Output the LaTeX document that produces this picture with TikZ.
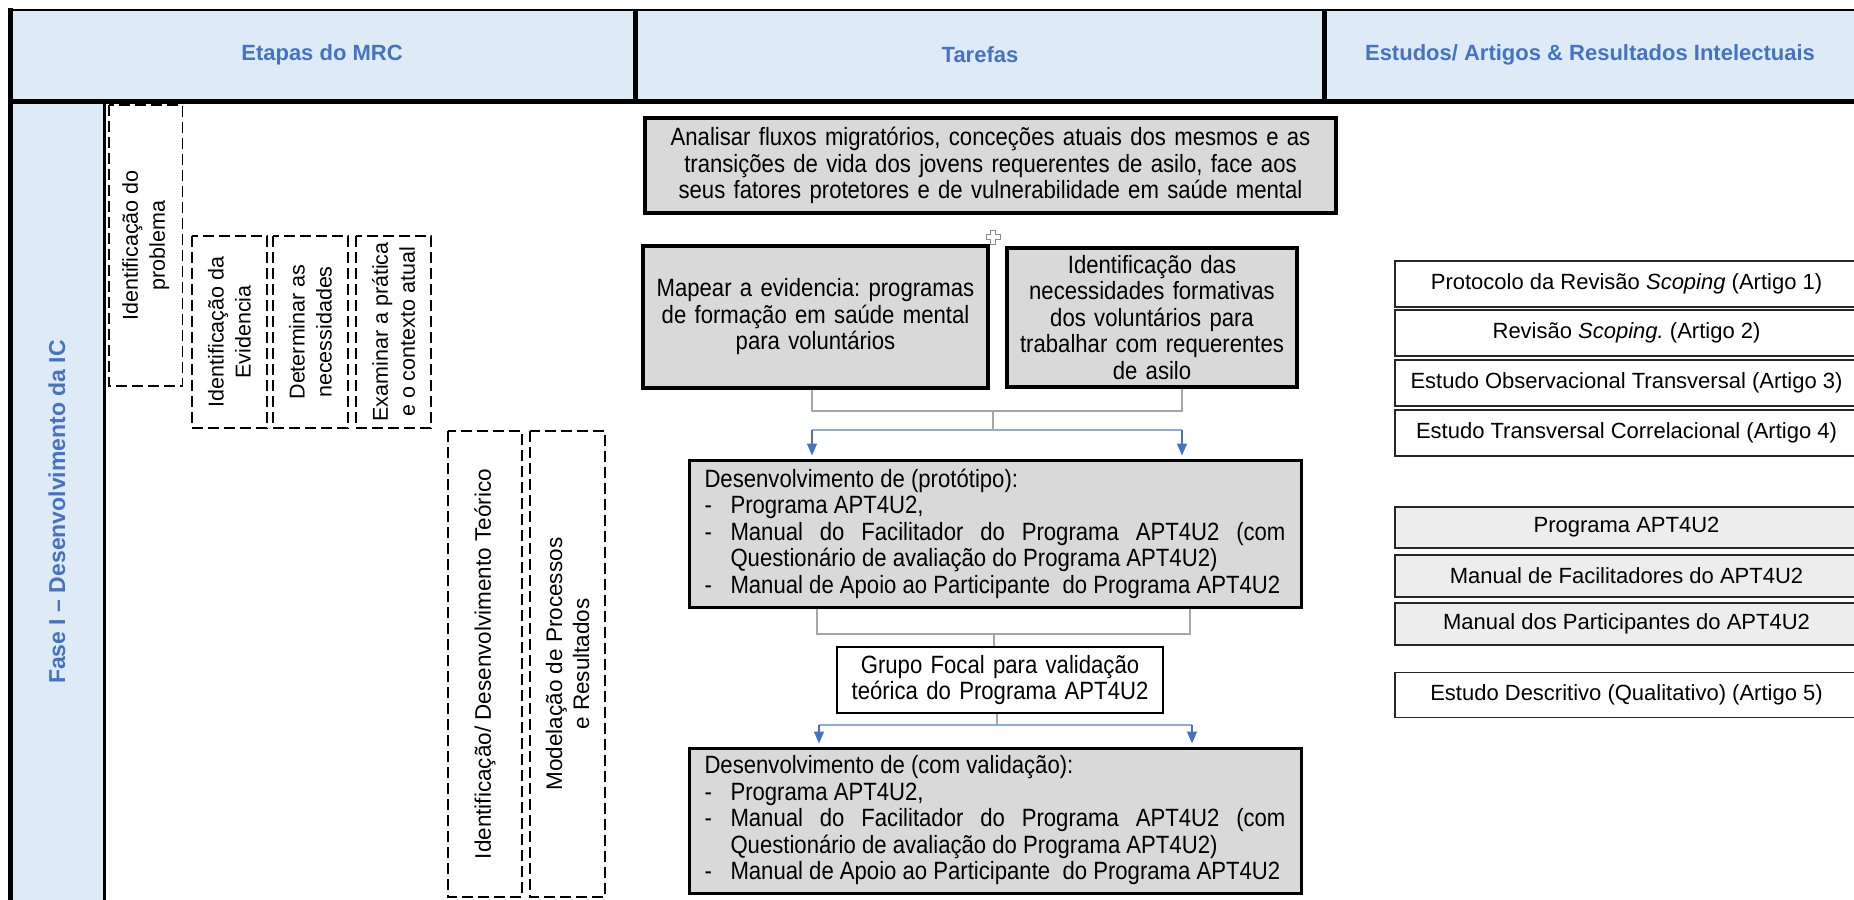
\documentclass[tikz,border=0pt]{standalone}
\usepackage{fontspec}
\setmainfont{Liberation Sans}
\newfontfamily\narrowf[FakeStretch=0.885]{Liberation Sans}
\usetikzlibrary{arrows.meta,calc}
\definecolor{hdrfill}{HTML}{DEEBF7}
\definecolor{hdrtext}{HTML}{4472C4}
\definecolor{taskfill}{HTML}{D9D9D9}
\definecolor{resfill}{HTML}{EDEDED}
\definecolor{linkgray}{HTML}{A6A6A6}
\definecolor{linkblue}{HTML}{4472C4}
\definecolor{busblue}{HTML}{8FAADC}
\newcommand{\dashitem}[1]{\par\noindent\hangindent=26pt\hangafter=1\makebox[26pt][l]{-}#1}

\begin{document}
\frenchspacing
\begin{tikzpicture}[x=1pt,y=-1pt,
  hdr/.style={font=\fontsize{22}{26}\selectfont\bfseries, text=hdrtext, inner sep=0pt},
  stage/.style={draw=black, line width=1.5pt, dash pattern=on 11pt off 5pt,
    rotate=90, inner sep=0pt, align=center, font=\fontsize{21.5}{27}\selectfont},
  task/.style={draw=black, fill=taskfill, line width=4pt, inner sep=0pt,
    align=center, font=\narrowf\fontsize{25}{26.5}\selectfont},
  devbox/.style={task, line width=3pt, align=justify, text width=581},
  focal/.style={task, fill=white, line width=2.5pt},
  resbox/.style={draw=black!85, line width=1.5pt, fill=white, inner sep=0pt,
    minimum width=463, font=\fontsize{22}{26}\selectfont},
  resgray/.style={resbox, fill=resfill},
  link/.style={draw=linkgray, line width=1.5pt},
  bus/.style={draw=busblue, line width=1.5pt},
  arrowlink/.style={draw=linkblue, line width=1.5pt, shorten >=3pt,
    -{Triangle[width=10pt,length=12pt]}},
]
\useasboundingbox (0,0) rectangle (1854,899);
\clip (0,0) rectangle (1854,899);

% table frame: header row and phase column
\fill[hdrfill] (10,10) rectangle (1860,101);
\fill[hdrfill] (10,101) rectangle (104,905);
\draw[line width=1.5pt] (10,10) -- (1860,10);
\draw[line width=5pt] (10,101.5) -- (1860,101.5);
\draw[line width=4.5pt] (10.5,8) -- (10.5,905);
\draw[line width=5pt] (635,10) -- (635,101);
\draw[line width=5pt] (1324,10) -- (1324,101);
\draw[line width=3pt] (104,101) -- (104,905);

\node[hdr] (hstages) at (322,55) {Etapas do MRC};
\node[hdr] (htasks) at (980,55) {Tarefas};
\node[hdr] (hresults) at (1590,55) {Estudos/ Artigos \& Resultados Intelectuais};
\node[hdr, font=\fontsize{23}{27}\selectfont\bfseries, rotate=90] (phaseI) at (57,512) {Fase I – Desenvolvimento da IC};

% MRC stages (dashed, vertical text)
\node[stage, minimum width=281, minimum height=73.5] (s1) at (145.75,245.5) {Identificação do\\problema};
\node[stage, minimum width=192, minimum height=75] (s2) at (229.5,332) {Identificação da\\Evidencia};
\node[stage, minimum width=192, minimum height=75] (s3) at (310.5,332) {Determinar as\\necessidades};
\node[stage, minimum width=192, minimum height=75] (s4) at (393.5,332) {Examinar a prática\\e o contexto atual};
\node[stage, font=\fontsize{22.5}{27}\selectfont, minimum width=466, minimum height=74] (s5) at (485,664) {Identificação/ Desenvolvimento Teórico};
\node[stage, font=\fontsize{22.5}{27}\selectfont, minimum width=466, minimum height=75] (s6) at (567.5,664) {Modelação de Processos\\e Resultados};

% tasks
\node[task, minimum width=691, minimum height=95, text width=670] (analisar) at (990.5,165.5)
  {Analisar fluxos migratórios, conceções atuais dos mesmos e as\\transições de vida dos jovens requerentes de asilo, face aos\\seus fatores protetores e de vulnerabilidade em saúde mental};

\draw[draw=black!45, fill=white, line width=1pt]
  (990.5,230) -- (995.5,230) -- (995.5,234.5) -- (1000,234.5) -- (1000,239.5)
  -- (995.5,239.5) -- (995.5,244) -- (990.5,244) -- (990.5,239.5) -- (986,239.5)
  -- (986,234.5) -- (990.5,234.5) -- cycle;

\node[task, minimum width=345, minimum height=142, text width=335] (mapear) at (815.5,317)
  {Mapear a evidencia: programas\\de formação em saúde mental\\para voluntários};
\node[task, minimum width=290, minimum height=139, text width=282] (ident) at (1152,317.5)
  {Identificação das\\necessidades formativas\\dos voluntários para\\trabalhar com requerentes\\de asilo};

\node[devbox, minimum width=612, minimum height=147] (proto) at (995,533.5)
  {Desenvolvimento de (protótipo):
   \dashitem{Programa APT4U2,}
   \dashitem{Manual do Facilitador do Programa APT4U2 (com\linebreak Questionário de avaliação do Programa APT4U2)}
   \dashitem{Manual de Apoio ao Participante~ do Programa APT4U2}};

\node[focal, minimum width=326, minimum height=66, text width=316] (focal) at (1000,680)
  {Grupo Focal para validação\\teórica do Programa APT4U2};

\node[devbox, minimum width=612, minimum height=145] (valid) at (995,820.5)
  {Desenvolvimento de (com validação):
   \dashitem{Programa APT4U2,}
   \dashitem{Manual do Facilitador do Programa APT4U2 (com\linebreak Questionário de avaliação do Programa APT4U2)}
   \dashitem{Manual de Apoio ao Participante~ do Programa APT4U2}};

% connectors
\coordinate (ja) at (812,411);
\coordinate (jb) at (1182,411);
\coordinate (jm) at (993,411);
\coordinate (ka) at (812,430);
\coordinate (kb) at (1182,430);
\coordinate (km) at (993,430);
\draw[link] (mapear.south -| ja) -- (ja) -- (jb) -- (ident.south -| jb);
\draw[link] (jm) -- (km);
\draw[bus] (ka) -- (kb);
\draw[arrowlink] (ka) -- (proto.north -| ka);
\draw[arrowlink] (kb) -- (proto.north -| kb);

\coordinate (pa) at (817,634);
\coordinate (pb) at (1190,634);
\coordinate (pm) at (994,634);
\draw[link] (proto.south -| pa) -- (pa) -- (pb) -- (proto.south -| pb);
\draw[link] (pm) -- (focal.north -| pm);

\coordinate (qm) at (997,725);
\coordinate (qa) at (819,725);
\coordinate (qb) at (1192,725);
\draw[link] (focal.south -| qm) -- (qm);
\draw[bus] (qa) -- (qb);
\draw[arrowlink] (qa) -- (valid.north -| qa);
\draw[arrowlink] (qb) -- (valid.north -| qb);

% studies, articles and intellectual outputs
\node[resbox, minimum height=46] (r1) at (1626.5,284) {Protocolo da Revisão \textit{Scoping} (Artigo 1)};
\node[resbox, minimum height=46] (r2) at (1626.5,333) {Revisão \textit{Scoping.} (Artigo 2)};
\node[resbox, minimum height=46] (r3) at (1626.5,383) {Estudo Observacional Transversal (Artigo 3)};
\node[resbox, minimum height=46] (r4) at (1626.5,433) {Estudo Transversal Correlacional (Artigo 4)};
\node[resgray, minimum height=41] (r5) at (1626.5,527.5) {Programa APT4U2};
\node[resgray, minimum height=42] (r6) at (1626.5,576) {Manual de Facilitadores do APT4U2};
\node[resgray, minimum height=42] (r7) at (1626.5,624) {Manual dos Participantes do APT4U2};
\node[resbox, minimum height=45] (r8) at (1626.5,695) {Estudo Descritivo (Qualitativo) (Artigo 5)};
\end{tikzpicture}
\end{document}
